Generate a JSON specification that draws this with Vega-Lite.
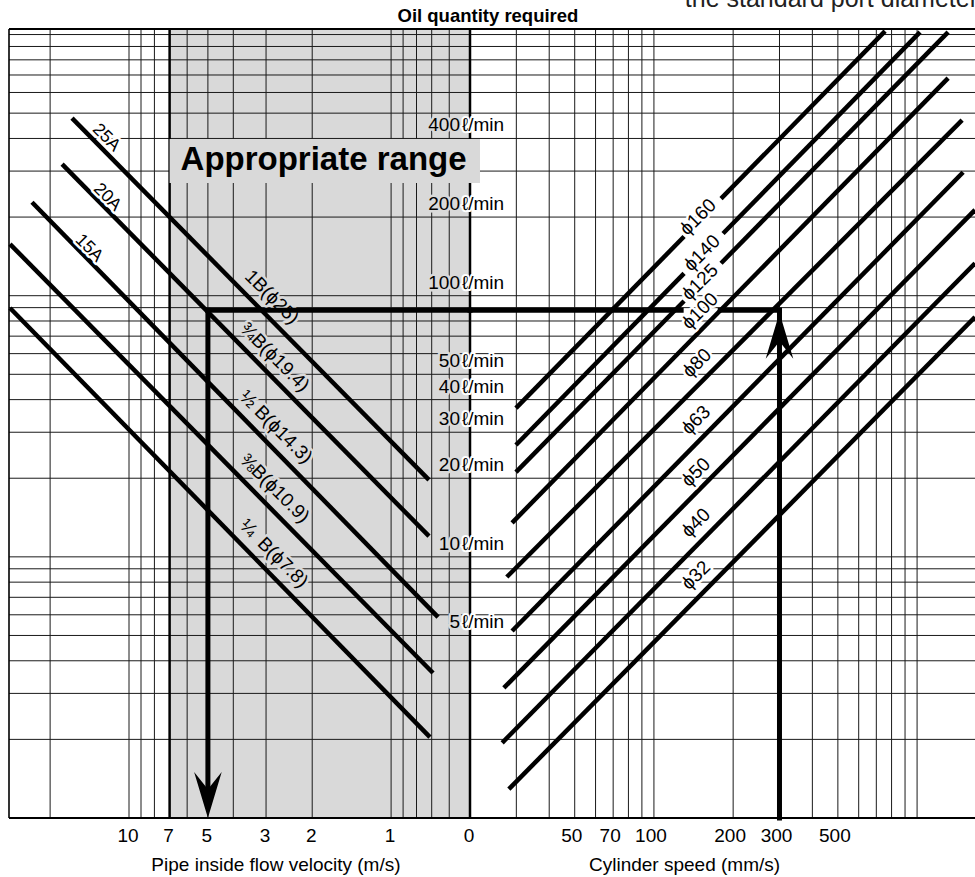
{
  "$schema": "https://vega.github.io/schema/vega-lite/v6.json",
  "width": 966,
  "height": 789,
  "autosize": {"type": "none"},
  "padding": {"left": 9, "top": 29, "right": 0, "bottom": 59},
  "background": "white",
  "config": {
    "view": {"stroke": null},
    "text": {"font": "Liberation Sans", "fontSize": 19, "color": "black"}
  },
  "datasets": {
    "band": [{"name": "Appropriate range", "lo": 0.5, "hi": 7, "boxRight": 0.458, "boxTop": 398, "boxBottom": 270, "textV": 1.81, "textQ": 300}],
    "vGridLeft": [{"v": 20}, {"v": 10}, {"v": 9}, {"v": 8}, {"v": 6}, {"v": 5}, {"v": 4}, {"v": 3}, {"v": 2}, {"v": 1}, {"v": 0.9}, {"v": 0.8}, {"v": 0.7}, {"v": 0.6}],
    "vThick": [{"v": 7}, {"v": 0.5}],
    "vEdge": [{"v": 28.7}],
    "sGrid": [{"s": 30}, {"s": 40}, {"s": 50}, {"s": 60}, {"s": 70}, {"s": 80}, {"s": 90}, {"s": 100}, {"s": 200}, {"s": 300}, {"s": 400}, {"s": 500}, {"s": 600}, {"s": 700}, {"s": 800}, {"s": 900}, {"s": 1000}],
    "qGrid": [{"q": 2}, {"q": 3}, {"q": 4}, {"q": 5}, {"q": 6}, {"q": 7}, {"q": 8}, {"q": 9}, {"q": 10}, {"q": 20}, {"q": 30}, {"q": 40}, {"q": 50}, {"q": 60}, {"q": 70}, {"q": 80}, {"q": 90}, {"q": 100}, {"q": 200}, {"q": 300}, {"q": 400}, {"q": 500}, {"q": 600}, {"q": 700}, {"q": 800}, {"q": 900}, {"q": 1000}],
    "qEdge": [{"q": 1}, {"q": 1050}],
    "pipes": [
      {"pipe": "1B(25A)", "v1": 16.5, "q1": 478.6, "v2": 0.717, "q2": 19.7},
      {"pipe": "3/4B(20A)", "v1": 18.0, "q1": 319, "v2": 0.717, "q2": 12.0},
      {"pipe": "1/2B(15A)", "v1": 23.45, "q1": 228, "v2": 0.662, "q2": 5.88},
      {"pipe": "3/8B", "v1": 28.45, "q1": 157.6, "v2": 0.692, "q2": 3.59},
      {"pipe": "1/4B", "v1": 28.45, "q1": 89.7, "v2": 0.711, "q2": 2.04}
    ],
    "pipeLabels": [
      {"label": "25A", "v": 12.2, "q": 403},
      {"label": "20A", "v": 12.1, "q": 238.5},
      {"label": "15A", "v": 14.2, "q": 152},
      {"label": "1B(ϕ25)", "v": 2.85, "q": 98.8},
      {"label": "¾B(ϕ19.4)", "v": 2.78, "q": 58.2},
      {"label": "½ B(ϕ14.3)", "v": 2.75, "q": 31.4},
      {"label": "⅜B(ϕ10.9)", "v": 2.78, "q": 18.3},
      {"label": "¼\u2002B(ϕ7.8)", "v": 2.8, "q": 10.3}
    ],
    "cylinders": [
      {"bore": "ϕ160", "s1": 29.9, "q1": 37.1, "s2": 130.2, "q2": 168.5},
      {"bore": "ϕ160", "s1": 179.9, "q1": 235.2, "s2": 755.7, "q2": 1030},
      {"bore": "ϕ140", "s1": 29.9, "q1": 26.8, "s2": 130.2, "q2": 121.7},
      {"bore": "ϕ140", "s1": 183.1, "q1": 173.0, "s2": 1026, "q2": 1021},
      {"bore": "ϕ125", "s1": 29.9, "q1": 21.1, "s2": 130.2, "q2": 95.4},
      {"bore": "ϕ125", "s1": 179.9, "q1": 133.1, "s2": 1312, "q2": 1021},
      {"bore": "ϕ100", "s1": 28.9, "q1": 13.5, "s2": 1312, "q2": 681},
      {"bore": "ϕ80", "s1": 27.6, "q1": 8.37, "s2": 1483, "q2": 470},
      {"bore": "ϕ63", "s1": 28.9, "q1": 5.2, "s2": 1496, "q2": 297},
      {"bore": "ϕ50", "s1": 26.9, "q1": 3.15, "s2": 1660, "q2": 213},
      {"bore": "ϕ40", "s1": 26.5, "q1": 1.94, "s2": 1660, "q2": 133},
      {"bore": "ϕ32", "s1": 28.1, "q1": 1.29, "s2": 1660, "q2": 82.8}
    ],
    "cylinderLabels": [
      {"label": "ϕ160", "s": 147.1, "q": 200},
      {"label": "ϕ140", "s": 152.3, "q": 145.6},
      {"label": "ϕ125", "s": 149.7, "q": 112.7},
      {"label": "ϕ100", "s": 149.7, "q": 87.3},
      {"label": "ϕ80", "s": 145.8, "q": 55.2},
      {"label": "ϕ63", "s": 144.6, "q": 33.4},
      {"label": "ϕ50", "s": 144.6, "q": 21.1},
      {"label": "ϕ40", "s": 144.6, "q": 13.5},
      {"label": "ϕ32", "s": 144.6, "q": 8.5}
    ],
    "flowLabels": [
      {"q": 400, "n": "400", "s": 20}, {"q": 200, "n": "200", "s": 20}, {"q": 100, "n": "100", "s": 20},
      {"q": 50, "n": "50", "s": 20}, {"q": 40, "n": "40", "s": 20}, {"q": 30, "n": "30", "s": 20},
      {"q": 20, "n": "20", "s": 20}, {"q": 10, "n": "10", "s": 20}, {"q": 5, "n": "5", "s": 20}
    ],
    "velocityTicks": [{"v": 10, "label": "10", "q": 1}, {"v": 7, "label": "7", "q": 1}, {"v": 5, "label": "5", "q": 1}, {"v": 3, "label": "3", "q": 1}, {"v": 2, "label": "2", "q": 1}, {"v": 1, "label": "1", "q": 1}, {"v": 0.5, "label": "0", "q": 1}],
    "speedTicks": [{"s": 50, "label": "50", "q": 1}, {"s": 70, "label": "70", "q": 1}, {"s": 100, "label": "100", "q": 1}, {"s": 200, "label": "200", "q": 1}, {"s": 300, "label": "300", "q": 1}, {"s": 500, "label": "500", "q": 1}],
    "exampleLeft": [
      {"v1": 5, "v2": 0.5, "q1": 88, "q2": 88},
      {"v1": 5, "v2": 5, "q1": 88, "q2": 1.3}
    ],
    "exampleRight": [
      {"s1": 20, "s2": 126.9, "q1": 88, "q2": 88},
      {"s1": 178.6, "s2": 300, "q1": 88, "q2": 88},
      {"s1": 300, "s2": 300, "q1": 88, "q2": 1}
    ],
    "arrowDown": [{"v": 5, "q": 1}],
    "arrowUp": [{"s": 300, "q": 86}],
    "leftTitle": [{"text": "Pipe inside flow velocity (m/s)", "v": 2.75, "q": 1}],
    "rightTitle": [{"text": "Cylinder speed (mm/s)", "s": 130.7, "q": 1}],
    "topTitle": [{"text": "Oil quantity required", "s": 23.4, "q": 1050}],
    "note": [{"text": "the standard port diameter", "s": 131, "q": 1050}]
  },
  "resolve": {"scale": {"x": "independent"}},
  "layer": [
    {
      "data": {"name": "band"},
      "mark": {"type": "rect", "color": "#d9d9d9"},
      "encoding": {
        "x": {"field": "hi", "type": "quantitative", "scale": {"type": "log", "domain": [0.5, 28.7], "range": [461, 0], "nice": false}, "axis": null},
        "x2": {"field": "lo"}
      }
    },
    {
      "data": {"name": "vGridLeft"},
      "mark": {"type": "rule", "color": "#1a1a1a", "strokeWidth": 1},
      "encoding": {
        "x": {"field": "v", "type": "quantitative", "scale": {"type": "log", "domain": [0.5, 28.7], "range": [461, 0], "nice": false}, "axis": null}
      }
    },
    {
      "data": {"name": "sGrid"},
      "mark": {"type": "rule", "color": "#1a1a1a", "strokeWidth": 1},
      "encoding": {
        "x": {"field": "s", "type": "quantitative", "scale": {"type": "log", "domain": [20, 1660], "range": [461, 966], "nice": false}, "axis": null}
      }
    },
    {
      "data": {"name": "qGrid"},
      "mark": {"type": "rule", "color": "#1a1a1a", "strokeWidth": 1},
      "encoding": {
        "y": {"field": "q", "type": "quantitative", "scale": {"type": "log", "domain": [1, 1050], "nice": false}, "axis": null}
      }
    },
    {
      "data": {"name": "qEdge"},
      "mark": {"type": "rule", "color": "black", "strokeWidth": 2},
      "encoding": {
        "y": {"field": "q", "type": "quantitative", "scale": {"type": "log", "domain": [1, 1050], "nice": false}, "axis": null}
      }
    },
    {
      "data": {"name": "vEdge"},
      "mark": {"type": "rule", "color": "black", "strokeWidth": 1.6},
      "encoding": {
        "x": {"field": "v", "type": "quantitative", "scale": {"type": "log", "domain": [0.5, 28.7], "range": [461, 0], "nice": false}, "axis": null}
      }
    },
    {
      "data": {"name": "vThick"},
      "mark": {"type": "rule", "color": "black", "strokeWidth": 2.5},
      "encoding": {
        "x": {"field": "v", "type": "quantitative", "scale": {"type": "log", "domain": [0.5, 28.7], "range": [461, 0], "nice": false}, "axis": null}
      }
    },
    {
      "data": {"name": "pipes"},
      "mark": {"type": "rule", "color": "black", "strokeWidth": 4.5, "strokeCap": "butt"},
      "encoding": {
        "x": {"field": "v1", "type": "quantitative", "scale": {"type": "log", "domain": [0.5, 28.7], "range": [461, 0], "nice": false}, "axis": null},
        "x2": {"field": "v2"},
        "y": {"field": "q1", "type": "quantitative", "scale": {"type": "log", "domain": [1, 1050], "nice": false}, "axis": null},
        "y2": {"field": "q2"}
      }
    },
    {
      "data": {"name": "cylinders"},
      "mark": {"type": "rule", "color": "black", "strokeWidth": 4.5, "strokeCap": "butt"},
      "encoding": {
        "x": {"field": "s1", "type": "quantitative", "scale": {"type": "log", "domain": [20, 1660], "range": [461, 966], "nice": false}, "axis": null},
        "x2": {"field": "s2"},
        "y": {"field": "q1", "type": "quantitative", "scale": {"type": "log", "domain": [1, 1050], "nice": false}, "axis": null},
        "y2": {"field": "q2"}
      }
    },
    {
      "data": {"name": "pipeLabels"},
      "mark": {"type": "text", "angle": 45, "align": "center", "baseline": "middle", "strokeWidth": 5, "strokeJoin": "round"},
      "encoding": {
        "x": {"field": "v", "type": "quantitative", "scale": {"type": "log", "domain": [0.5, 28.7], "range": [461, 0], "nice": false}, "axis": null},
        "y": {"field": "q", "type": "quantitative", "scale": {"type": "log", "domain": [1, 1050], "nice": false}, "axis": null},
        "text": {"field": "label"},
        "fill": {"condition": {"test": "datum.v > 7", "value": "white"}, "value": "#d9d9d9"},
        "stroke": {"condition": {"test": "datum.v > 7", "value": "white"}, "value": "#d9d9d9"},
        "size": {"condition": {"test": "datum.v > 7", "value": 17.5}, "value": 19}
      }
    },
    {
      "data": {"name": "pipeLabels"},
      "mark": {"type": "text", "angle": 45, "align": "center", "baseline": "middle", "color": "black"},
      "encoding": {
        "x": {"field": "v", "type": "quantitative", "scale": {"type": "log", "domain": [0.5, 28.7], "range": [461, 0], "nice": false}, "axis": null},
        "y": {"field": "q", "type": "quantitative", "scale": {"type": "log", "domain": [1, 1050], "nice": false}, "axis": null},
        "text": {"field": "label"},
        "size": {"condition": {"test": "datum.v > 7", "value": 17.5}, "value": 19}
      }
    },
    {
      "data": {"name": "band"},
      "mark": {"type": "rect", "color": "#d9d9d9"},
      "encoding": {
        "x": {"field": "hi", "type": "quantitative", "scale": {"type": "log", "domain": [0.5, 28.7], "range": [461, 0], "nice": false}, "axis": null},
        "x2": {"field": "boxRight"},
        "y": {"field": "boxTop", "type": "quantitative", "scale": {"type": "log", "domain": [1, 1050], "nice": false}, "axis": null},
        "y2": {"field": "boxBottom"}
      }
    },
    {
      "data": {"name": "band"},
      "mark": {"type": "text", "fontSize": 33, "fontWeight": "bold", "align": "center", "baseline": "alphabetic", "dy": -1},
      "encoding": {
        "x": {"field": "textV", "type": "quantitative", "scale": {"type": "log", "domain": [0.5, 28.7], "range": [461, 0], "nice": false}, "axis": null},
        "y": {"field": "textQ", "type": "quantitative", "scale": {"type": "log", "domain": [1, 1050], "nice": false}, "axis": null},
        "text": {"field": "name"}
      }
    },
    {
      "data": {"name": "exampleLeft"},
      "mark": {"type": "rule", "color": "black", "strokeWidth": 5, "strokeCap": "square"},
      "encoding": {
        "x": {"field": "v1", "type": "quantitative", "scale": {"type": "log", "domain": [0.5, 28.7], "range": [461, 0], "nice": false}, "axis": null},
        "x2": {"field": "v2"},
        "y": {"field": "q1", "type": "quantitative", "scale": {"type": "log", "domain": [1, 1050], "nice": false}, "axis": null},
        "y2": {"field": "q2"}
      }
    },
    {
      "data": {"name": "arrowDown"},
      "mark": {"type": "point", "shape": "M0,0 L-0.6,-2 L0,-1.25 L0.6,-2 Z", "size": 2116, "filled": true, "color": "black", "opacity": 1, "strokeWidth": 0},
      "encoding": {
        "x": {"field": "v", "type": "quantitative", "scale": {"type": "log", "domain": [0.5, 28.7], "range": [461, 0], "nice": false}, "axis": null},
        "y": {"field": "q", "type": "quantitative", "scale": {"type": "log", "domain": [1, 1050], "nice": false}, "axis": null}
      }
    },
    {
      "data": {"name": "exampleRight"},
      "mark": {"type": "rule", "color": "black", "strokeWidth": 5, "strokeCap": "square"},
      "encoding": {
        "x": {"field": "s1", "type": "quantitative", "scale": {"type": "log", "domain": [20, 1660], "range": [461, 966], "nice": false}, "axis": null},
        "x2": {"field": "s2"},
        "y": {"field": "q1", "type": "quantitative", "scale": {"type": "log", "domain": [1, 1050], "nice": false}, "axis": null},
        "y2": {"field": "q2"}
      }
    },
    {
      "data": {"name": "arrowUp"},
      "mark": {"type": "point", "shape": "M0,0 L-0.6,2 L0,1.25 L0.6,2 Z", "size": 2116, "filled": true, "color": "black", "opacity": 1, "strokeWidth": 0},
      "encoding": {
        "x": {"field": "s", "type": "quantitative", "scale": {"type": "log", "domain": [20, 1660], "range": [461, 966], "nice": false}, "axis": null},
        "y": {"field": "q", "type": "quantitative", "scale": {"type": "log", "domain": [1, 1050], "nice": false}, "axis": null}
      }
    },
    {
      "data": {"name": "cylinderLabels"},
      "mark": {"type": "text", "angle": -45, "align": "center", "baseline": "middle", "fill": "white", "stroke": "white", "strokeWidth": 5, "strokeJoin": "round"},
      "encoding": {
        "x": {"field": "s", "type": "quantitative", "scale": {"type": "log", "domain": [20, 1660], "range": [461, 966], "nice": false}, "axis": null},
        "y": {"field": "q", "type": "quantitative", "scale": {"type": "log", "domain": [1, 1050], "nice": false}, "axis": null},
        "text": {"field": "label"}
      }
    },
    {
      "data": {"name": "cylinderLabels"},
      "mark": {"type": "text", "angle": -45, "align": "center", "baseline": "middle", "color": "black"},
      "encoding": {
        "x": {"field": "s", "type": "quantitative", "scale": {"type": "log", "domain": [20, 1660], "range": [461, 966], "nice": false}, "axis": null},
        "y": {"field": "q", "type": "quantitative", "scale": {"type": "log", "domain": [1, 1050], "nice": false}, "axis": null},
        "text": {"field": "label"}
      }
    },
    {
      "data": {"name": "flowLabels"},
      "mark": {"type": "text", "align": "right", "baseline": "alphabetic", "dx": -10, "dy": -7, "fill": "#d9d9d9", "stroke": "#d9d9d9", "strokeWidth": 5, "strokeJoin": "round"},
      "encoding": {
        "x": {"field": "s", "type": "quantitative", "scale": {"type": "log", "domain": [20, 1660], "range": [461, 966], "nice": false}, "axis": null},
        "y": {"field": "q", "type": "quantitative", "scale": {"type": "log", "domain": [1, 1050], "nice": false}, "axis": null},
        "text": {"field": "n"}
      }
    },
    {
      "data": {"name": "flowLabels"},
      "mark": {"type": "text", "align": "left", "baseline": "alphabetic", "dx": -8, "dy": -7, "fill": "white", "stroke": "white", "strokeWidth": 4, "strokeJoin": "round", "text": "ℓ/min"},
      "encoding": {
        "x": {"field": "s", "type": "quantitative", "scale": {"type": "log", "domain": [20, 1660], "range": [461, 966], "nice": false}, "axis": null},
        "y": {"field": "q", "type": "quantitative", "scale": {"type": "log", "domain": [1, 1050], "nice": false}, "axis": null}
      }
    },
    {
      "data": {"name": "flowLabels"},
      "mark": {"type": "text", "align": "right", "baseline": "alphabetic", "dx": -10, "dy": -7, "color": "black"},
      "encoding": {
        "x": {"field": "s", "type": "quantitative", "scale": {"type": "log", "domain": [20, 1660], "range": [461, 966], "nice": false}, "axis": null},
        "y": {"field": "q", "type": "quantitative", "scale": {"type": "log", "domain": [1, 1050], "nice": false}, "axis": null},
        "text": {"field": "n"}
      }
    },
    {
      "data": {"name": "flowLabels"},
      "mark": {"type": "text", "align": "left", "baseline": "alphabetic", "dx": -8, "dy": -7, "color": "black", "text": "ℓ/min"},
      "encoding": {
        "x": {"field": "s", "type": "quantitative", "scale": {"type": "log", "domain": [20, 1660], "range": [461, 966], "nice": false}, "axis": null},
        "y": {"field": "q", "type": "quantitative", "scale": {"type": "log", "domain": [1, 1050], "nice": false}, "axis": null}
      }
    },
    {
      "data": {"name": "velocityTicks"},
      "mark": {"type": "text", "align": "center", "baseline": "alphabetic", "dy": 24, "dx": -1},
      "encoding": {
        "x": {"field": "v", "type": "quantitative", "scale": {"type": "log", "domain": [0.5, 28.7], "range": [461, 0], "nice": false}, "axis": null},
        "y": {"field": "q", "type": "quantitative", "scale": {"type": "log", "domain": [1, 1050], "nice": false}, "axis": null},
        "text": {"field": "label"}
      }
    },
    {
      "data": {"name": "speedTicks"},
      "mark": {"type": "text", "align": "center", "baseline": "alphabetic", "dy": 24, "dx": -3},
      "encoding": {
        "x": {"field": "s", "type": "quantitative", "scale": {"type": "log", "domain": [20, 1660], "range": [461, 966], "nice": false}, "axis": null},
        "y": {"field": "q", "type": "quantitative", "scale": {"type": "log", "domain": [1, 1050], "nice": false}, "axis": null},
        "text": {"field": "label"}
      }
    },
    {
      "data": {"name": "leftTitle"},
      "mark": {"type": "text", "align": "center", "baseline": "alphabetic", "dy": 53},
      "encoding": {
        "x": {"field": "v", "type": "quantitative", "scale": {"type": "log", "domain": [0.5, 28.7], "range": [461, 0], "nice": false}, "axis": null},
        "y": {"field": "q", "type": "quantitative", "scale": {"type": "log", "domain": [1, 1050], "nice": false}, "axis": null},
        "text": {"field": "text"}
      }
    },
    {
      "data": {"name": "rightTitle"},
      "mark": {"type": "text", "align": "center", "baseline": "alphabetic", "dy": 53},
      "encoding": {
        "x": {"field": "s", "type": "quantitative", "scale": {"type": "log", "domain": [20, 1660], "range": [461, 966], "nice": false}, "axis": null},
        "y": {"field": "q", "type": "quantitative", "scale": {"type": "log", "domain": [1, 1050], "nice": false}, "axis": null},
        "text": {"field": "text"}
      }
    },
    {
      "data": {"name": "topTitle"},
      "mark": {"type": "text", "align": "center", "baseline": "alphabetic", "dy": -7.5, "fontSize": 18.5, "fontWeight": "bold"},
      "encoding": {
        "x": {"field": "s", "type": "quantitative", "scale": {"type": "log", "domain": [20, 1660], "range": [461, 966], "nice": false}, "axis": null},
        "y": {"field": "q", "type": "quantitative", "scale": {"type": "log", "domain": [1, 1050], "nice": false}, "axis": null},
        "text": {"field": "text"}
      }
    },
    {
      "data": {"name": "note"},
      "mark": {"type": "text", "align": "left", "baseline": "alphabetic", "dy": -22, "fontSize": 25, "color": "#222222"},
      "encoding": {
        "x": {"field": "s", "type": "quantitative", "scale": {"type": "log", "domain": [20, 1660], "range": [461, 966], "nice": false}, "axis": null},
        "y": {"field": "q", "type": "quantitative", "scale": {"type": "log", "domain": [1, 1050], "nice": false}, "axis": null},
        "text": {"field": "text"}
      }
    }
  ]
}
